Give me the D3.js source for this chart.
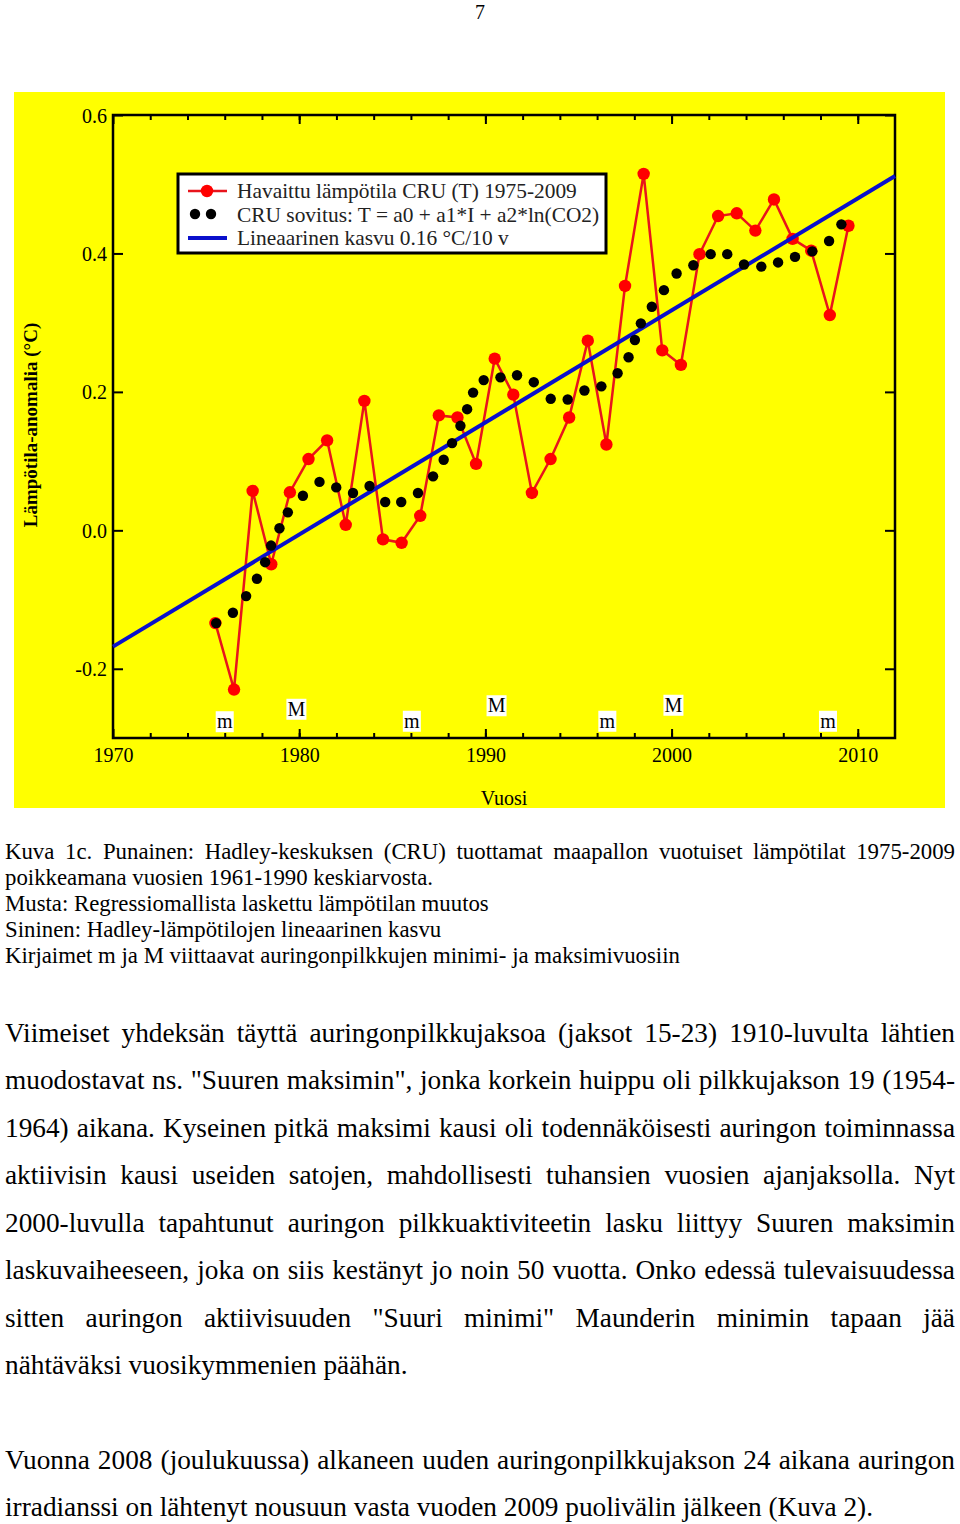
<!DOCTYPE html>
<html lang="fi">
<head>
<meta charset="utf-8">
<title>Kuva 1c</title>
<script src="https://cdn.jsdelivr.net/npm/d3@7"></script>
<style>
  body { margin: 0; background: #fff; }
  svg text { font-family: "Liberation Serif", "Times New Roman", serif; }
</style>
</head>
<body>
<div id="page"></div>
<script>
// Havaittu lämpötila CRU (T), vuodet 1975-2009
let obsYears = [1975, 1976, 1977, 1978, 1979, 1980, 1981, 1982, 1983, 1984,
  1985, 1986, 1987, 1988, 1989, 1990, 1991, 1992, 1993, 1994,
  1995, 1996, 1997, 1998, 1999, 2000, 2001, 2002, 2003, 2004,
  2005, 2006, 2007, 2008, 2009]
let obsTemp = [-0.134, -0.230, 0.057, -0.049, 0.055, 0.103, 0.130, 0.008, 0.187, -0.013,
  -0.018, 0.021, 0.166, 0.163, 0.096, 0.248, 0.196, 0.054, 0.103, 0.163,
  0.274, 0.124, 0.353, 0.515, 0.260, 0.239, 0.399, 0.454, 0.458, 0.433,
  0.478, 0.421, 0.404, 0.311, 0.440]

// CRU sovitus (mustat pisteet)
let fitYears = [1975.54, 1976.44, 1977.15, 1977.73, 1978.17, 1978.49, 1978.94, 1979.39, 1980.20, 1981.09,
  1981.99, 1982.89, 1983.78, 1984.62, 1985.48, 1986.38, 1987.19, 1987.76, 1988.21, 1988.66,
  1989.02, 1989.34, 1989.91, 1990.81, 1991.70, 1992.60, 1993.51, 1994.42, 1995.32, 1996.23,
  1997.10, 1997.69, 1998.03, 1998.35, 1998.94, 1999.59, 2000.27, 2001.17, 2002.10, 2002.99,
  2003.89, 2004.82, 2005.72, 2006.63, 2007.56, 2008.46, 2009.12]
let fitTemp = [-0.134, -0.119, -0.095, -0.070, -0.046, -0.022, 0.003, 0.026, 0.050, 0.070,
  0.062, 0.054, 0.064, 0.041, 0.041, 0.054, 0.078, 0.102, 0.126, 0.151,
  0.175, 0.199, 0.217, 0.221, 0.224, 0.214, 0.190, 0.189, 0.202, 0.208,
  0.227, 0.250, 0.275, 0.299, 0.323, 0.347, 0.371, 0.383, 0.399, 0.399,
  0.384, 0.381, 0.387, 0.395, 0.403, 0.418, 0.442]

// lineaarinen kasvu
let trendYears = [1970, 2012]
let trendTemp = [-0.168, 0.512]

// auringonpilkkujen minimit ja maksimit
let cycleLabels = ["m", "M", "m", "M", "m", "M", "m"]
let cycleYears = [1976.0, 1979.85, 1986.05, 1990.6, 1996.55, 2000.1, 2008.4]
let cycleLevels = [-0.2765, -0.2585, -0.2758, -0.2534, -0.2758, -0.2527, -0.2758]

let yTicks = [-0.2, 0.0, 0.2, 0.4, 0.6]
let xTicks = [1970, 1980, 1990, 2000, 2010]

let legendLabels = ["Havaittu lämpötila CRU (T) 1975-2009",
  "CRU sovitus: T = a0 + a1*I + a2*ln(CO2)",
  "Lineaarinen kasvu 0.16 °C/10 v"]

let captionLines = [
  "Kuva 1c. Punainen: Hadley-keskuksen (CRU) tuottamat maapallon vuotuiset lämpötilat 1975-2009",
  "poikkeamana vuosien 1961-1990 keskiarvosta.",
  "Musta: Regressiomallista laskettu lämpötilan muutos",
  "Sininen: Hadley-lämpötilojen lineaarinen kasvu",
  "Kirjaimet m ja M viittaavat auringonpilkkujen minimi- ja maksimivuosiin"]
let captionJustify = [true, false, false, false, false]

let bodyLines = [
  "Viimeiset yhdeksän täyttä auringonpilkkujaksoa (jaksot 15-23) 1910-luvulta lähtien",
  "muodostavat ns. \"Suuren maksimin\", jonka korkein huippu oli pilkkujakson 19 (1954-",
  "1964) aikana. Kyseinen pitkä maksimi kausi oli todennäköisesti auringon toiminnassa",
  "aktiivisin kausi useiden satojen, mahdollisesti tuhansien vuosien ajanjaksolla. Nyt",
  "2000-luvulla tapahtunut auringon pilkkuaktiviteetin lasku liittyy Suuren maksimin",
  "laskuvaiheeseen, joka on siis kestänyt jo noin 50 vuotta. Onko edessä tulevaisuudessa",
  "sitten auringon aktiivisuuden \"Suuri minimi\" Maunderin minimin tapaan jää",
  "nähtäväksi vuosikymmenien päähän.",
  "Vuonna 2008 (joulukuussa) alkaneen uuden auringonpilkkujakson 24 aikana auringon",
  "irradianssi on lähtenyt nousuun vasta vuoden 2009 puolivälin jälkeen (Kuva 2)."]
let bodyJustify = [true, true, true, true, true, true, true, false, true, false]
let bodyBaselines = [1042, 1089, 1137, 1184, 1232, 1279, 1327, 1374, 1469, 1516]

function drawPage() {
  let w = 960
  let h = 1524
  let svg = d3.select("#page").append("svg")
      .attr("width", w)
      .attr("height", h)

  // sivunumero
  svg.append("text")
      .attr("x", 480).attr("y", 19)
      .attr("text-anchor", "middle")
      .attr("font-size", 20)
      .text("7")

  // keltainen tausta
  svg.append("rect")
      .attr("x", 14).attr("y", 92)
      .attr("width", 931).attr("height", 716)
      .attr("fill", "#ffff00")

  let x = d3.scaleLinear().domain([1970, 2012]).range([113, 895])
  let y = d3.scaleLinear().domain([-0.3, 0.6]).range([738, 115])

  let fmt = function(d) { return d.toFixed(1) }
  let minorYears = d3.range(1972, 2012, 2)

  // akselit, tikit sisäänpäin
  let g = svg.append("g")
  g.append("g")
      .attr("transform", "translate(0," + y(-0.3) + ")")
      .call(d3.axisBottom(x).tickValues(minorYears).tickSize(-5).tickFormat(""))
  g.append("g")
      .attr("class", "xaxis")
      .attr("transform", "translate(0," + y(-0.3) + ")")
      .call(d3.axisBottom(x).tickValues(xTicks).tickSize(-9).tickPadding(10).tickFormat(d3.format("d")))
  g.append("g")
      .attr("transform", "translate(0," + y(0.6) + ")")
      .call(d3.axisTop(x).tickValues(minorYears).tickSize(-5).tickFormat(""))
  g.append("g")
      .attr("transform", "translate(0," + y(0.6) + ")")
      .call(d3.axisTop(x).tickValues(xTicks).tickSize(-9).tickFormat(""))
  g.append("g")
      .attr("class", "yaxis")
      .attr("transform", "translate(" + x(1970) + ",0)")
      .call(d3.axisLeft(y).tickValues(yTicks).tickSize(-10).tickPadding(6).tickFormat(fmt))
  g.append("g")
      .attr("transform", "translate(" + x(2012) + ",0)")
      .call(d3.axisRight(y).tickValues(yTicks).tickSize(-10).tickFormat(""))

  g.selectAll(".domain").remove()
  g.selectAll(".tick line").attr("stroke", "#000").attr("stroke-width", 2)
  g.selectAll(".tick text")
      .attr("font-family", "Liberation Serif, serif")
      .attr("font-size", 20)
      .attr("fill", "#000")
  g.select(".yaxis").selectAll(".tick text").attr("dy", "0.35em")

  svg.append("rect")
      .attr("x", x(1970)).attr("y", y(0.6))
      .attr("width", x(2012) - x(1970))
      .attr("height", y(-0.3) - y(0.6))
      .attr("fill", "none")
      .attr("stroke", "#000")
      .attr("stroke-width", 2.5)

  // akselien otsikot
  svg.append("text")
      .attr("transform", "translate(37,425) rotate(-90)")
      .attr("text-anchor", "middle")
      .attr("font-size", 19)
      .attr("font-weight", "bold")
      .text("Lämpötila-anomalia (°C)")
  svg.append("text")
      .attr("x", 504).attr("y", 805)
      .attr("text-anchor", "middle")
      .attr("font-size", 20)
      .text("Vuosi")

  // punainen havaintosarja
  let obs = obsYears.map(function(d, i) { return [d + 0.5, obsTemp[i]] })
  let line = d3.line()
      .x(function(d) { return x(d[0]) })
      .y(function(d) { return y(d[1]) })
  svg.append("path")
      .datum(obs)
      .attr("d", line)
      .attr("fill", "none")
      .attr("stroke", "#e8141c")
      .attr("stroke-width", 2.5)
  svg.append("g").selectAll("circle")
      .data(obs)
      .enter().append("circle")
      .attr("cx", function(d) { return x(d[0]) })
      .attr("cy", function(d) { return y(d[1]) })
      .attr("r", 6.2)
      .attr("fill", "#ff0000")

  // trendiviiva
  let trend = trendYears.map(function(d, i) { return [d, trendTemp[i]] })
  svg.append("path")
      .datum(trend)
      .attr("d", line)
      .attr("stroke", "#0a10cc")
      .attr("stroke-width", 4)

  // mustat sovituspisteet
  svg.append("g").selectAll("circle")
      .data(fitYears)
      .enter().append("circle")
      .attr("cx", function(d) { return x(d) })
      .attr("cy", function(d, i) { return y(fitTemp[i]) })
      .attr("r", 5.2)
      .attr("fill", "#000")

  // m / M merkinnät
  let cyc = svg.append("g").selectAll("g")
      .data(cycleLabels)
      .enter().append("g")
      .attr("transform", function(d, i) {
        return "translate(" + x(cycleYears[i]) + "," + y(cycleLevels[i]) + ")"
      })
  cyc.append("rect")
      .attr("x", function(d) { return d == "M" ? -10 : -9 })
      .attr("y", -10.5)
      .attr("width", function(d) { return d == "M" ? 20 : 18 })
      .attr("height", 21)
      .attr("fill", "#fff")
  cyc.append("text")
      .attr("text-anchor", "middle")
      .attr("y", 6.5)
      .attr("font-size", 20)
      .text(function(d) { return d })

  // selite
  let leg = svg.append("g")
  leg.append("rect")
      .attr("x", 178).attr("y", 174)
      .attr("width", 428).attr("height", 79)
      .attr("fill", "#fff")
      .attr("stroke", "#000")
      .attr("stroke-width", 3)
  leg.selectAll("text.leg")
      .data(legendLabels)
      .enter().append("text")
      .attr("class", "leg")
      .attr("x", 237)
      .attr("y", function(d, i) { return 198 + i * 23.5 })
      .attr("font-size", 21.4)
      .attr("fill", "#222")
      .text(function(d) { return d })
  leg.append("line")
      .attr("x1", 188).attr("x2", 227).attr("y1", 191).attr("y2", 191)
      .attr("stroke", "#e8141c").attr("stroke-width", 2.5)
  leg.append("circle").attr("cx", 207).attr("cy", 191).attr("r", 6.2).attr("fill", "#ff0000")
  leg.append("circle").attr("cx", 195).attr("cy", 214).attr("r", 5.2).attr("fill", "#000")
  leg.append("circle").attr("cx", 211).attr("cy", 214).attr("r", 5.2).attr("fill", "#000")
  leg.append("line")
      .attr("x1", 188).attr("x2", 227).attr("y1", 238).attr("y2", 238)
      .attr("stroke", "#0a10cc").attr("stroke-width", 4)

  // kuvateksti ja leipäteksti
  function textLine(str, base, size, justify) {
    let t = svg.append("text")
        .attr("x", 5).attr("y", base)
        .attr("font-size", size)
        .attr("fill", "#000")
        .text(str)
    if (justify) {
      let spaces = str.split(" ").length - 1
      let len = t.node().getComputedTextLength()
      t.attr("word-spacing", (950 - len) / spaces)
    }
  }
  captionLines.forEach(function(d, i) {
    textLine(d, 859 + i * 26, 22.8, captionJustify[i])
  })
  bodyLines.forEach(function(d, i) {
    textLine(d, bodyBaselines[i], 27.3, bodyJustify[i])
  })
}
drawPage()
</script>
</body>
</html>
